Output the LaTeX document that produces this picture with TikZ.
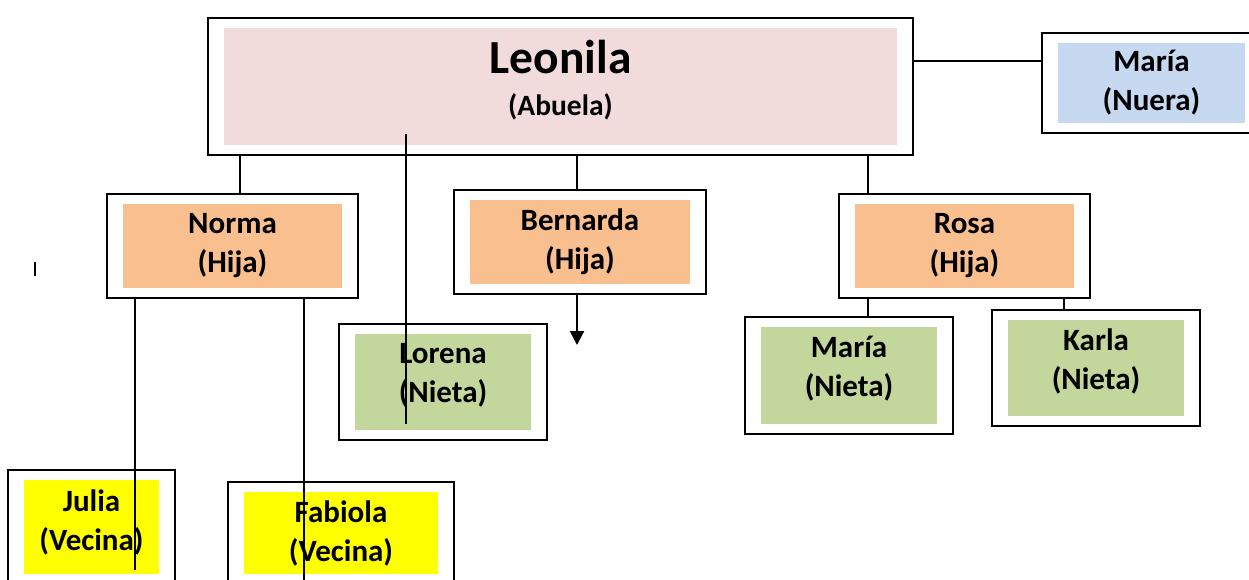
\documentclass[tikz,border=0pt]{standalone}
\usepackage{fontspec}
\setmainfont{Carlito}
\usetikzlibrary{arrows.meta}
\definecolor{abuelac}{HTML}{F2DCDB}
\definecolor{nuerac}{HTML}{C6D9F1}
\definecolor{hijac}{HTML}{F9BF8F}
\definecolor{nietac}{HTML}{C3D69B}
\definecolor{vecinac}{HTML}{FFFF00}

\begin{document}
\begin{tikzpicture}[x=1pt,y=-1pt,
    marco/.style={draw, line width=2pt, fill=white, inner sep=0pt},
    relleno/.style={fill=#1, inner sep=0pt, align=center,
      font=\bfseries\fontsize{31}{39}\selectfont},
    enlace/.style={line width=2pt}]
  \useasboundingbox (0,0) rectangle (1249,579);
  \clip (0,0) rectangle (1249,579);

  % abuela y nuera
  \node [marco, minimum width=705, minimum height=137] (leonila) at (560.5,86.5) {};
  \node [relleno=abuelac, minimum width=673, minimum height=117, text depth=17pt] (leonila-in) at (leonila)
    {{\fontsize{47.5}{50}\selectfont Leonila}\\[3pt]{\fontsize{29.5}{32}\selectfont (Abuela)}};
  \node [marco, minimum width=219, minimum height=100] (nuera) at (1151.5,83) {};
  \node [relleno=nuerac, minimum width=187, minimum height=80] (nuera-in) at (nuera) {María\\(Nuera)};

  % hijas
  \node [marco, minimum width=251, minimum height=104] (norma) at (232.5,246) {};
  \node [relleno=hijac, minimum width=219, minimum height=84] (norma-in) at (norma) {Norma\\(Hija)};
  \node [marco, minimum width=252, minimum height=104] (bernarda) at (580,242) {};
  \node [relleno=hijac, minimum width=220, minimum height=84] (bernarda-in) at (bernarda) {Bernarda\\(Hija)};
  \node [marco, minimum width=251, minimum height=104] (rosa) at (964.5,246) {};
  \node [relleno=hijac, minimum width=219, minimum height=84] (rosa-in) at (rosa) {Rosa\\(Hija)};

  % nietas
  \node [marco, minimum width=208, minimum height=116] (lorena) at (443,382) {};
  \node [relleno=nietac, minimum width=176, minimum height=96, text depth=18pt] (lorena-in) at (lorena) {Lorena\\(Nieta)};
  \node [marco, minimum width=208, minimum height=117] (marian) at (849,375.5) {};
  \node [relleno=nietac, minimum width=176, minimum height=97, text depth=18pt] (marian-in) at (marian) {María\\(Nieta)};
  \node [marco, minimum width=208, minimum height=116] (karla) at (1096,368) {};
  \node [relleno=nietac, minimum width=176, minimum height=96, text depth=18pt] (karla-in) at (karla) {Karla\\(Nieta)};

  % vecinas
  \node [marco, minimum width=167, minimum height=114] (julia) at (91.5,527) {};
  \node [relleno=vecinac, minimum width=135, minimum height=94, text depth=13pt] (julia-in) at (julia) {Julia\\(Vecina)};
  \node [marco, minimum width=226, minimum height=102] (fabiola) at (341,533) {};
  \node [relleno=vecinac, minimum width=194, minimum height=82] (fabiola-in) at (fabiola) {Fabiola\\(Vecina)};

  \coordinate (punta) at (577,345);

  \draw [enlace] (leonila.east |- 0,61) -- (nuera.west |- 0,61);
  \draw [enlace] (leonila.south -| 240,0) -- (norma.north -| 240,0);
  \draw [enlace] (leonila.south -| 577,0) -- (bernarda.north -| 577,0);
  \draw [enlace] (leonila.south -| 868,0) -- (rosa.north -| 868,0);
  \draw [enlace] ([yshift=22pt]leonila.south -| 406,0) -- ([yshift=17pt]lorena.south -| 406,0);
  \draw [enlace, -{Triangle[width=14pt,length=14pt]}] (bernarda.south -| punta) -- (punta);
  \draw [enlace] (norma.south -| 135,0) -- ([yshift=-43pt]julia.center -| 135,0);
  \draw [enlace] (norma.south -| 304,0) -- (fabiola.south -| 304,0);
  \draw [enlace] (rosa.south -| 868,0) -- (marian.north -| 868,0);
  \draw [enlace] (rosa.south -| 1064,0) -- (karla.north -| 1064,0);

  \draw [line width=1.5pt] (35,262) -- (35,276);
\end{tikzpicture}
\end{document}
